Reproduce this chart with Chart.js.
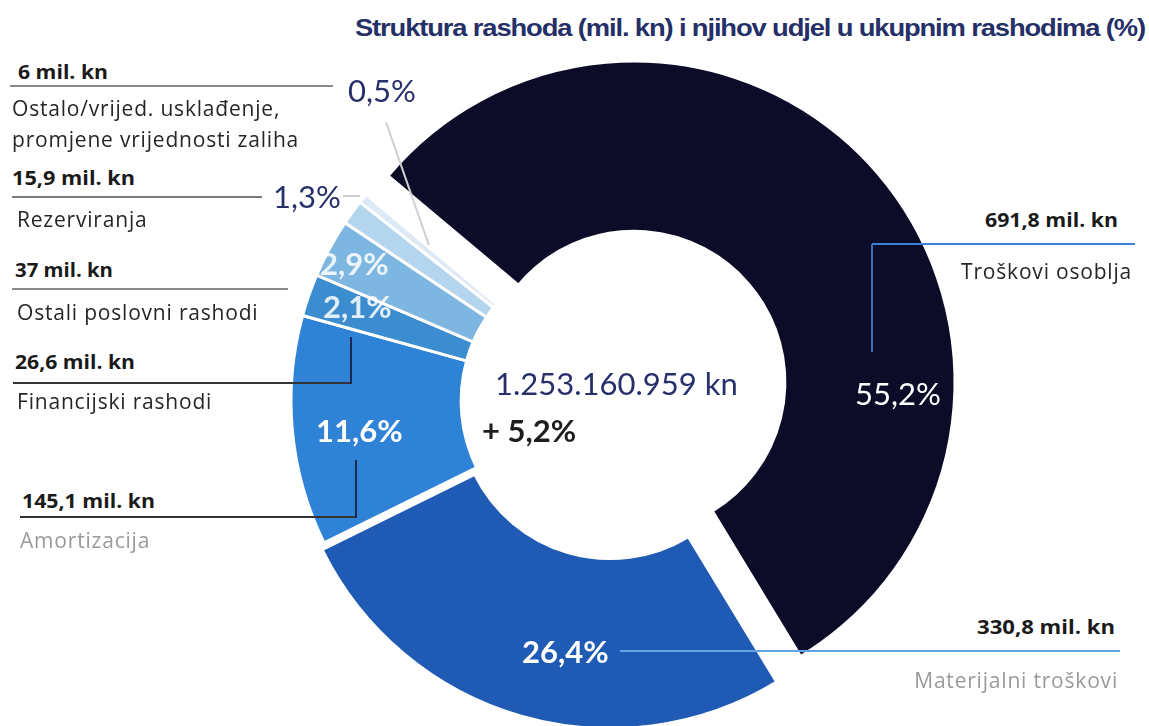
<!DOCTYPE html>
<html lang="hr">
<head>
<meta charset="UTF-8">
<title>Struktura rashoda</title>
<script src="https://cdn.jsdelivr.net/npm/chart.js"></script>
<style>
  html, body { margin: 0; padding: 0; width: 1149px; height: 726px; overflow: hidden; background: #fff; }
  body { position: relative; font-family: "Open Sans", sans-serif; }
  #wrap { position: absolute; left: 252px; top: 41px; width: 720px; height: 720px; }
  .t { position: absolute; white-space: nowrap; line-height: 1; }
  .val { font-family: "Open Sans", sans-serif; font-weight: 700; font-size: 19px; color: #1a1a1a; }
  .name { font-size: 21px; color: #262626; letter-spacing: 0.8px; }
  .pct { font-family: Lato, sans-serif; font-size: 31px; }
  .ln { position: absolute; }
  #title { font-family: "Liberation Sans", sans-serif; font-weight: 700; font-size: 24px; color: #252f68; letter-spacing: -1px; }
</style>
</head>
<body>
<div id="wrap"><canvas id="c"></canvas></div>

<script>
  const categories = [
    "Troškovi osoblja",
    "Materijalni troškovi",
    "Amortizacija",
    "Financijski rashodi",
    "Ostali poslovni rashodi",
    "Rezerviranja",
    "Ostalo/vrijed. usklađenje, promjene vrijednosti zaliha"
  ];
  const valuesMil = [691.8, 330.8, 145.1, 26.6, 37, 15.9, 6];
  const sharePct = [55.2, 26.4, 11.6, 2.1, 2.9, 1.3, 0.5];
  const totalLabel = "1.253.160.959 kn";
  const changeLabel = "+ 5,2%";
  const titleText = "Struktura rashoda (mil. kn) i njihov udjel u ukupnim rashodima (%)";

  const colors = ["#0d0c28", "#1f5ab4", "#2f83d6", "#3b8dcf", "#7db6e0", "#b4d5ee", "#dde9f4"];
  // izvlacenje isjecaka (px), bez povecanja radijusa
  const explodePx = [29, 7, 0, 0, 0, 0, 0];

  const fmt = v => String(v).replace(".", ",");

  const explode = {
    id: "explode",
    afterDatasetsUpdate(chart) {
      chart.getDatasetMeta(0).data.forEach((arc, i) => {
        const mid = (arc.startAngle + arc.endAngle) / 2;
        arc.x += Math.cos(mid) * explodePx[i];
        arc.y += Math.sin(mid) * explodePx[i];
      });
    }
  };

  new Chart(document.getElementById("c"), {
    type: "doughnut",
    data: {
      labels: categories,
      datasets: [{
        data: valuesMil,
        backgroundColor: colors,
        borderColor: "#ffffff",
        borderWidth: 3
      }]
    },
    options: {
      responsive: true,
      maintainAspectRatio: false,
      animation: false,
      events: [],
      rotation: -50,
      radius: 321,
      cutout: "47%",
      plugins: { legend: { display: false }, tooltip: { enabled: false } }
    },
    plugins: [explode]
  });

  // tekstovi i linije oko grafikona
  function txt(s, x, y, cls, right, color) {
    const d = document.createElement("div");
    d.className = "t " + cls;
    d.textContent = s;
    d.style.top = y + "px";
    d.style.left = x + "px";
    d.style.transformOrigin = right ? "100% 50%" : "0 50%";
    d.dataset.base = right ? "translate(-100%, -50%)" : "translateY(-50%)";
    d.style.transform = d.dataset.base;
    if (color) d.style.color = color;
    document.body.appendChild(d);
    return d;
  }
  // sirina teksta kao na slici
  function fit(d, w) {
    const cur = d.getBoundingClientRect().width;
    d.style.transform = d.dataset.base + " scaleX(" + (w / cur) + ")";
    return d;
  }
  function hline(x1, x2, y, color, w) {
    const d = document.createElement("div");
    d.className = "ln";
    d.style.left = x1 + "px";
    d.style.top = (y - w / 2) + "px";
    d.style.width = (x2 - x1) + "px";
    d.style.height = w + "px";
    d.style.background = color;
    document.body.appendChild(d);
  }
  function vline(x, y1, y2, color, w) {
    const d = document.createElement("div");
    d.className = "ln";
    d.style.left = (x - w / 2) + "px";
    d.style.top = y1 + "px";
    d.style.width = w + "px";
    d.style.height = (y2 - y1) + "px";
    d.style.background = color;
    document.body.appendChild(d);
  }
  function sline(x1, y1, x2, y2, color, w) {
    const d = document.createElement("div");
    const len = Math.hypot(x2 - x1, y2 - y1);
    d.className = "ln";
    d.style.left = x1 + "px";
    d.style.top = y1 + "px";
    d.style.width = len + "px";
    d.style.height = w + "px";
    d.style.background = color;
    d.style.transformOrigin = "0 0";
    d.style.transform = "rotate(" + Math.atan2(y2 - y1, x2 - x1) + "rad)";
    document.body.appendChild(d);
  }

  const navy = "#27306b";
  const pct = i => fmt(sharePct[i]) + "%";
  const mil = i => fmt(valuesMil[i]) + " mil. kn";

  const title = txt(titleText, 1145, 28, "", true);
  title.id = "title";
  fit(title, 790);

  // Ostalo
  fit(txt(mil(6), 18, 72, "val"), 90);
  hline(10, 333, 86, "#8a8a8a", 2);
  txt("Ostalo/vrijed. usklađenje,", 12, 108, "name");
  txt("promjene vrijednosti zaliha", 12, 139, "name");
  txt(pct(6), 348, 90, "pct", false, navy);
  sline(387, 122, 430, 245, "#d0d0d0", 1.5);

  // Rezerviranja
  fit(txt(mil(5), 12, 178, "val"), 123);
  hline(12, 262, 197, "#7a7a7a", 2);
  txt(pct(5), 273, 196, "pct", false, navy);
  hline(343, 360, 196, "#cccccc", 1.5);
  txt(categories[5], 17, 219, "name");

  // Ostali poslovni
  fit(txt(mil(4), 15, 270, "val"), 98);
  hline(12, 288, 289, "#8a8a8a", 2);
  txt(categories[4], 17, 312, "name");
  txt(pct(4), 320, 263, "pct", false, "rgba(255,255,255,0.85)").style.fontWeight = "700";
  txt(pct(3), 323, 306, "pct", false, "rgba(255,255,255,0.85)").style.fontWeight = "700";

  // Financijski
  fit(txt(mil(3), 15, 362, "val"), 120);
  hline(13, 352, 383, "#333333", 2);
  vline(351, 337, 384, "#1b2a55", 2);
  txt(categories[3], 17, 401, "name");

  // Amortizacija
  txt(pct(2), 316, 430, "pct", false, "#ffffff").style.fontWeight = "700";
  fit(txt(mil(2), 22, 501, "val"), 133);
  hline(20, 357, 517, "#333333", 2);
  vline(356, 460, 518, "#1b2a55", 2);
  txt(categories[2], 20, 540, "name", false, "#9a9a9a");

  // sredina
  txt(totalLabel, 495, 383, "pct", false, navy);
  txt(changeLabel, 482, 430, "pct", false, "#1e1e1e").style.fontWeight = "700";

  // Troškovi osoblja
  txt(pct(0), 855, 393, "pct", false, "#ffffff");
  fit(txt(mil(0), 1118, 220, "val", true), 133);
  hline(872, 1135, 244, "#3b82d6", 1.5);
  vline(872, 244, 352, "#3b6fb0", 1.5);
  txt(categories[0], 1132, 271, "name", true);

  // Materijalni
  hline(620, 1120, 651, "#63a4e4", 2);
  txt(pct(1), 522, 651, "pct", false, "#ffffff").style.fontWeight = "700";
  fit(txt(mil(1), 1115, 627, "val", true), 138);
  txt(categories[1], 1118, 680, "name", true, "#9a9a9a");
</script>
</body>
</html>
